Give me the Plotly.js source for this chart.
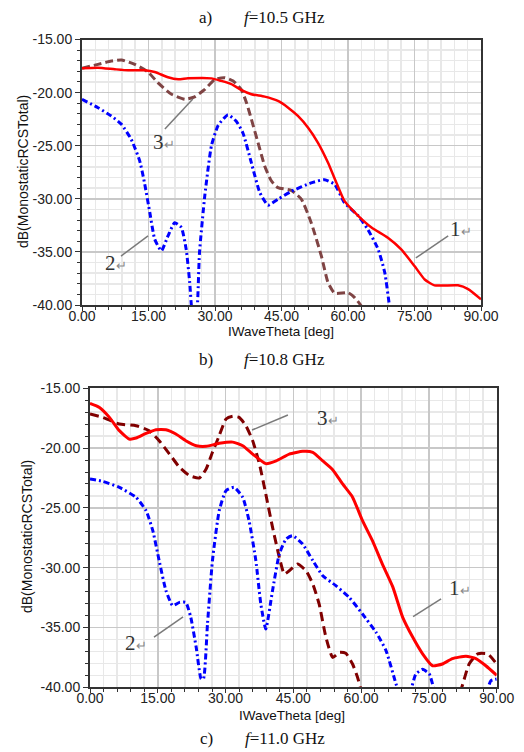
<!DOCTYPE html>
<html>
<head>
<meta charset="utf-8">
<script src="https://cdn.plot.ly/plotly-3.0.1.min.js"></script>
<style>
html,body{margin:0;padding:0;background:#fff;}
#chart{width:524px;height:752px;}
</style>
</head>
<body>
<div id="chart"></div>
<script>
// ---------- data: panel a (f = 10.5 GHz) ----------
var a_theta1 = [0,3.6,7.4,10.4,14.1,16.4,19.4,21.7,23.9,29.2,31.4,33.7,35.9,38.2,41.2,44.2,46.5,48.7,51,53.2,55.5,57.4,59.2,62.3,65.3,69,72,75,77.3,79.5,84.8,87.1,90];
var a_rcs1   = [-17.71,-17.65,-17.8,-17.9,-17.9,-18.06,-18.56,-18.75,-18.66,-18.66,-18.9,-19.2,-19.75,-20.16,-20.38,-20.79,-21.42,-22.2,-23.3,-24.7,-26.6,-28.5,-30.2,-31.6,-32.7,-33.66,-34.76,-36.33,-37.6,-38.15,-38.15,-38.5,-39.46];
var a_theta2 = [0,3.6,6.6,8.9,11.1,13,14.1,15.3,16.4,17.9,19.4,20.9,22.4,23.5,24.3,24.7,25.3,26,26.5,27.7,29.2,30.7,32.9,34.8,36.3,38.2,40.1,41.95,44.2,47.2,51.7,54.7,57,59.2,62.3,64.5,66.8,68.3,69.4,70];
var a_rcs2   = [-20.63,-21.42,-22.2,-22.99,-24.4,-26.4,-28.5,-31.3,-33.8,-34.9,-33.5,-32.25,-32.7,-34.76,-37.9,-40.2,-42,-40.2,-35.1,-29.7,-25,-23.1,-22.1,-22.7,-23.8,-26.6,-29.4,-30.6,-30.05,-29.3,-28.5,-28.2,-28.65,-30.37,-31.6,-32.9,-34.76,-36.96,-40.2,-41.5];
var a_theta3 = [0,3.6,6.6,8.9,11.9,14.9,17.1,20.2,23.2,25.4,27.7,30,32.2,34.1,35.9,37.1,38.2,39.7,41.2,42.7,44.2,47.2,49.5,51.7,54,55.5,57,60,61.5,63,64];
var a_rcs3   = [-17.7,-17.34,-17.03,-16.93,-17.34,-18.06,-19.06,-20.16,-20.63,-20.4,-19.7,-18.75,-18.6,-18.9,-19.7,-20.95,-22.5,-24.7,-26.9,-28.3,-28.95,-29.2,-30.05,-32.25,-35.4,-37.9,-38.9,-38.84,-39.3,-40.1,-41];

// ---------- data: panel b (f = 10.8 GHz) ----------
var b_theta1 = [0,2.1,4.3,6.5,8.7,10.2,12.4,14.6,16.8,19,21.2,23.5,25.7,28.6,31.6,33.8,36,38.9,41.2,44.1,47.1,49.3,51.5,53.7,55.9,58.1,60.3,62.5,64.7,67,69.2,71.4,73.6,75.8,78,80.2,83.2,85.4,87.6,90];
var b_rcs1   = [-16.26,-16.6,-17.43,-18.54,-19.24,-19.16,-18.77,-18.46,-18.46,-18.82,-19.38,-19.8,-19.85,-19.6,-19.5,-19.8,-20.5,-21.3,-21.07,-20.5,-20.27,-20.35,-21.07,-21.8,-23,-24.1,-26.07,-27.74,-29.7,-31.6,-34.15,-35.8,-37.2,-38.2,-38.05,-37.6,-37.4,-37.6,-38.2,-39];
var b_theta2 = [0,2.8,6.5,10.2,12.4,13.9,15.3,16.8,18.3,19.8,21.2,22.3,23.5,24.6,25.1,26,27.1,28.6,30.1,31.9,33.8,35.2,36.7,37.8,38.9,40.4,41.9,43.4,44.8,47,49.3,51.5,54.4,57.4,60.3,63.3,65.5,67.7,68.4,69.7,71,72.1,73.6,75.1,76.2,80,86,88,88.7,90];
var b_rcs2   = [-22.59,-22.78,-23.28,-24.12,-25.23,-26.9,-29.4,-31.9,-33.17,-32.9,-32.9,-34.15,-36.66,-39.3,-39.3,-34.7,-29.4,-25.23,-23.56,-23.28,-24.12,-26.07,-29.4,-33.03,-35.12,-31.9,-28.85,-27.6,-27.32,-28,-29.4,-30.67,-31.5,-32.5,-33.87,-35.4,-36.93,-39.7,-40.5,-42,-40.3,-38.9,-38.5,-38.9,-40.3,-45,-44,-40.2,-39.45,-39.3];
var b_theta3 = [0,2.8,6.5,10.2,13.1,15.3,17.6,19.8,22,24.2,25.7,27.1,28.6,30.1,31.6,33,34.5,36,37.5,38.9,40.4,41.9,43,44.1,45.9,47.8,49.3,50.7,52.2,53.7,55.2,56.6,58.1,59.2,60,66,76,82.1,83.9,85.8,88,90];
var b_rcs3   = [-17.15,-17.43,-17.99,-18.13,-18.54,-19.38,-20.5,-21.6,-22.3,-22.5,-21.75,-20.35,-18.96,-17.57,-17.34,-17.43,-18.13,-19.38,-21.34,-23.84,-26.63,-29.13,-30.53,-30.25,-29.7,-30.25,-31.36,-33.03,-35.8,-37.5,-37.08,-37.16,-38.05,-39.16,-40.2,-46,-46,-40.2,-38.05,-37.2,-37.2,-38.05];

// ---------- tick labels ----------
var xTickVals = [0,15,30,45,60,75,90];
var xTickText = ['0.00','15.00','30.00','45.00','60.00','75.00','90.00'];
var yTickVals = [-40,-35,-30,-25,-20,-15];
var yTickText = ['-40.00','-35.00','-30.00','-25.00','-20.00','-15.00'];
var curveNames = ['1','2','3'];

var W = 524, H = 752;
function px(x){return x/W;}
function py(y){return 1 - y/H;}

var red = '#ff0000', blue = '#0000ff', brownA = '#7f4444', brownB = '#800000';
function tr(x, y, color, dash, width, xa, ya, name){
  return {x:x, y:y, type:'scatter', mode:'lines', name:name, xaxis:xa, yaxis:ya,
    line:{color:color, width:width, dash:dash, shape:'spline', smoothing:0.5}, hoverinfo:'skip'};
}
var data = [
  tr(a_theta3, a_rcs3, brownA, '8px,4px', 3, 'x', 'y', curveNames[2]),
  tr(a_theta2, a_rcs2, blue, '6px,3px,2px,3px', 3, 'x', 'y', curveNames[1]),
  tr(a_theta1, a_rcs1, red, 'solid', 2.5, 'x', 'y', curveNames[0]),
  tr(b_theta3, b_rcs3, brownB, '9px,5px', 3, 'x2', 'y2', curveNames[2]),
  tr(b_theta2, b_rcs2, blue, '6px,3px,2px,3px', 3, 'x2', 'y2', curveNames[1]),
  tr(b_theta1, b_rcs1, red, 'solid', 3, 'x2', 'y2', curveNames[0])
];

var tickFont = {family:'Liberation Sans, Arial, sans-serif', size:14, color:'#222'};
function xax(domain, anchor){
  return {domain:domain, anchor:anchor, range:[0,90], tickvals:xTickVals, ticktext:xTickText,
    showline:true, mirror:true, linecolor:'#333', linewidth:2, ticks:'outside', ticklen:4, tickcolor:'#333',
    ticklabelstandoff:-7,
    showgrid:true, gridcolor:'#c8c8c8', gridwidth:1.5, zeroline:false, tickfont:tickFont,
    minor:{dtick:3, showgrid:true, gridcolor:'#e8e8e8', gridwidth:1.5, ticks:'outside', ticklen:3, tickcolor:'#333'}, fixedrange:true};
}
function yax(domain, anchor){
  return {domain:domain, anchor:anchor, range:[-40,-15], tickvals:yTickVals, ticktext:yTickText,
    showline:true, mirror:true, linecolor:'#333', linewidth:2, ticks:'outside', ticklen:5, tickcolor:'#333',
    showgrid:true, gridcolor:'#c8c8c8', gridwidth:1.5, zeroline:false, tickfont:tickFont,
    minor:{dtick:1, showgrid:true, gridcolor:'#e8e8e8', gridwidth:1.5, ticks:'outside', ticklen:3, tickcolor:'#333'}, fixedrange:true};
}

var serif = 'Liberation Serif, Times New Roman, serif';
var sans = 'Liberation Sans, Arial, sans-serif';
var ann = [];
function paperText(text, x, y, size, family, xanchor, angle){
  ann.push({xref:'paper', yref:'paper', x:px(x), y:py(y), text:text, showarrow:false,
    xanchor:xanchor||'center', yanchor:'middle', textangle:angle||0,
    font:{family:family, size:size, color:'#111'}});
}
// panel titles
paperText('a)', 197, 17, 17, serif, 'left');
paperText('<i>f</i>=10.5 GHz', 242, 17, 17, serif, 'left');
paperText('b)', 197, 359, 17, serif, 'left');
paperText('<i>f</i>=10.8 GHz', 242, 359, 17, serif, 'left');
paperText('c)', 198, 738, 17, serif, 'left');
paperText('<i>f</i>=11.0 GHz', 243, 738, 17, serif, 'left');
// axis titles
paperText('IWaveTheta [deg]', 281, 331, 13.5, sans);
paperText('IWaveTheta [deg]', 292, 715, 13.5, sans);
paperText('dB(MonostaticRCSTotal)', 23, 172, 14, sans, 'center', -90);
paperText('dB(MonostaticRCSTotal)', 27, 537, 14, sans, 'center', -90);

// curve labels
function lab(n, x, y, xr, yr){
  ann.push({xref:xr, yref:yr, x:x, y:y, showarrow:false, xanchor:'center', yanchor:'middle',
    text:n + '<span style="font-size:13px;color:#8a8a8a">\u21B5</span>',
    font:{family:serif, size:21, color:'#333'}});
}
lab(curveNames[2], 18.5, -24.65, 'x', 'y');
lab(curveNames[1], 7.7, -36.05, 'x', 'y');
lab(curveNames[0], 85.5, -32.84, 'x', 'y');
lab(curveNames[2], 52.7, -17.5, 'x2', 'y2');
lab(curveNames[1], 10.2, -36.3, 'x2', 'y2');
lab(curveNames[0], 81.9, -31.7, 'x2', 'y2');

function seg(x0,y0,x1,y1,xr,yr){
  return {type:'line', xref:xr, yref:yr, x0:x0, y0:y0, x1:x1, y1:y1, line:{color:'#7a7a7a', width:1.5}};
}
var shapes = [
  seg(18.7,-23.43,25.0,-20.6,'x','y'),
  seg(8.8,-35.39,14.9,-33.5,'x','y'),
  seg(82.6,-33.5,75.3,-35.57,'x','y'),
  seg(43.8,-17.23,35.85,-18.49,'x2','y2'),
  seg(14.16,-35.8,20.6,-34.12,'x2','y2'),
  seg(77.7,-32.6,71.5,-34.1,'x2','y2')
];

var layout = {
  width:W, height:H, margin:{l:0,r:0,t:0,b:0}, paper_bgcolor:'#fff', plot_bgcolor:'#fff',
  showlegend:false,
  xaxis: xax([px(82), px(481)], 'y'),
  yaxis: yax([py(305), py(39.5)], 'x'),
  xaxis2: xax([px(90), px(496.7)], 'y2'),
  yaxis2: yax([py(687.3), py(388.3)], 'x2'),
  annotations: ann,
  shapes: shapes
};
Plotly.newPlot('chart', data, layout, {staticPlot:true, displayModeBar:false});
</script>
</body>
</html>
